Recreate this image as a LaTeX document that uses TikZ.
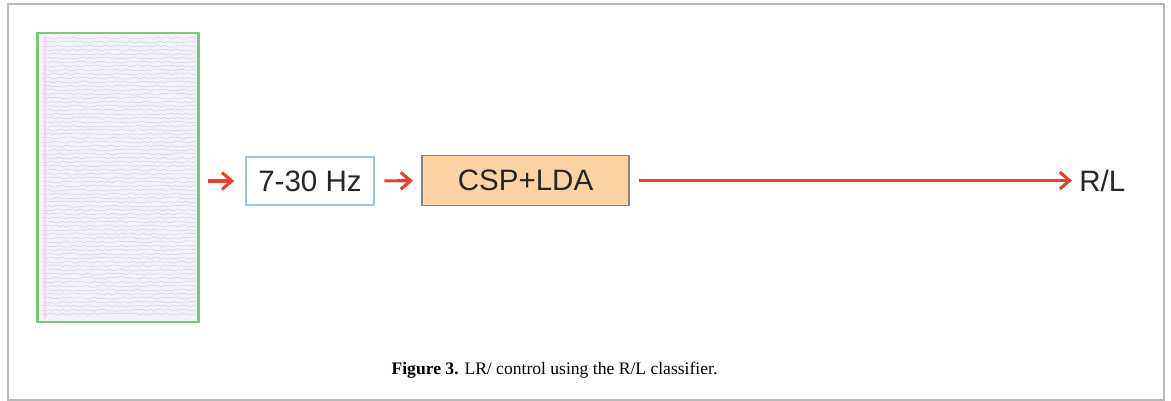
\documentclass[tikz,border=0pt]{standalone}
\usepackage{fontspec}
\setmainfont{Liberation Serif}
\setsansfont{Liberation Sans}
\usetikzlibrary{arrows.meta}
\definecolor{sigred}{HTML}{E8412A}
\definecolor{eeggreen}{HTML}{7CC67C}
\definecolor{eegbg}{HTML}{F3F2F9}
\definecolor{eegline}{HTML}{C9C8E2}
\definecolor{filtblue}{HTML}{9DC3E6}
\definecolor{clsfill}{HTML}{FBD3A2}
\definecolor{clsdraw}{HTML}{8E8579}
\tikzset{
  sig/.style={draw=sigred,line width=2.2pt,-{Straight Barb[length=7pt,width=12pt,line width=2.2pt]}},
  blocktext/.style={font=\sffamily\fontsize{21}{23}\selectfont,text=black!85}
}
\begin{document}
\begin{tikzpicture}[x=0.025cm,y=-0.025cm]
		\useasboundingbox (0,0) rectangle (1171,401);
		\draw[color=black!28,line width=1.2pt] (8,4) rectangle (1164,400);
		% EEG panel
		\node[draw=eeggreen,line width=1.6pt,fill=eegbg,minimum width=4.025cm,minimum height=7.225cm,inner sep=0pt] (eeg) at (118,177.5) {};
		\pgfmathsetseed{7}
		\foreach \i in {0,...,69}
		  \draw[eegline,line width=0.3pt,smooth,samples=45,domain=42:196] plot(\x,{38+\i*4+1.1*rand});
		\draw[color=red!25!magenta!20,line width=0.8pt] (45,36) -- (45,319);
		% processing chain
		\node[draw=filtblue,line width=0.8pt,fill=white,minimum width=3.2cm,minimum height=1.2cm,blocktext] (filt) at (310,181) {7-30 Hz};
		\node[draw=clsdraw,line width=0.8pt,fill=clsfill,minimum width=5.175cm,minimum height=1.25cm,blocktext] (cls) at (525.5,180.5) {CSP+LDA};
		\node[blocktext,anchor=west,inner sep=0pt] (out) at (1079,180.5) {R/L};
		\draw[sig,shorten <=6pt,shorten >=8pt] (eeg.east |- filt) -- (filt);
		\draw[sig,shorten <=7pt,shorten >=6pt] (filt) -- (cls);
		\draw[sig,shorten <=7pt,shorten >=5pt] (cls) -- (out);
		\node[font=\fontsize{12.5}{14}\selectfont] (cap) at (554.5,370) {\textbf{Figure 3.} LR/ control using the R/L classifier.};
\end{tikzpicture}
\end{document}
